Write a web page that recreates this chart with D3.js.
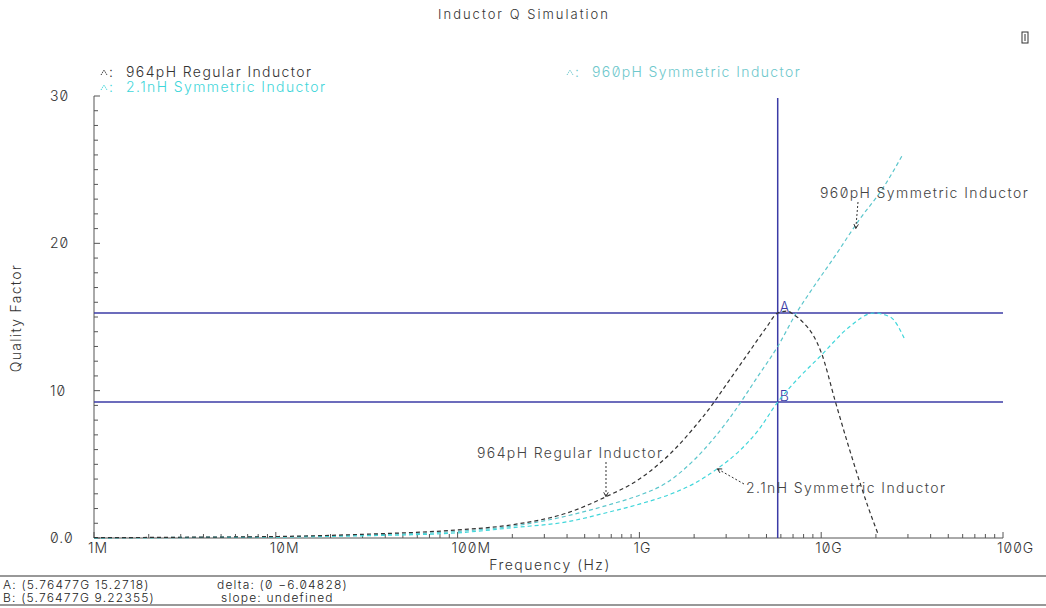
<!DOCTYPE html>
<html>
<head>
<meta charset="utf-8">
<script src="https://cdn.jsdelivr.net/npm/d3@7"></script>
<style>
  html, body { margin: 0; padding: 0; background: #fff; }
  svg text { font-family: Inter, "DejaVu Sans", sans-serif; font-weight: 300; font-feature-settings: "zero" 1; }
</style>
</head>
<body>
<svg id="chart" width="1046" height="608"></svg>
<script>
// ---- data (frequency in Hz, quality factor) ----
const freqRegular964 = [1e6, 3e6, 1e7, 3e7, 1e8, 2e8, 4e8, 6.55e8, 1e9, 1.26e9, 1.5e9, 2e9, 2.5e9, 3e9, 4e9, 5e9, 5.76477e9, 6.5e9, 7e9, 8e9, 9e9, 1e10, 1.2e10, 1.4e10, 1.6e10, 1.8e10, 2.05e10];
const qRegular964    = [0.02, 0.05, 0.1, 0.25, 0.55, 0.9, 1.7, 2.8, 4.0, 4.95, 5.8, 7.5, 9.0, 10.4, 12.6, 14.3, 15.2718, 15.4, 15.2, 14.6, 13.8, 12.6, 9.2, 6.4, 4.1, 2.2, 0.3];

const freqSym960 = [1e6, 3e6, 1e7, 3e7, 1e8, 2e8, 4e8, 7e8, 1e9, 1.39e9, 2e9, 3.12e9, 4.5e9, 5.76477e9, 7.3e9, 8.7e9, 1.2e10, 1.62e10, 2.2e10, 2.8e10];
const qSym960    = [0.01, 0.04, 0.08, 0.2, 0.45, 0.8, 1.5, 2.3, 2.9, 3.7, 5.3, 8.1, 11.0, 13.0, 15.27, 16.7, 19.2, 21.6, 23.8, 26.0];

const freqSym2n1 = [1e6, 3e6, 1e7, 3e7, 1e8, 2e8, 4e8, 7e8, 1e9, 1.5e9, 2e9, 2.68e9, 3.54e9, 4.5e9, 5.76477e9, 7.3e9, 1e10, 1.42e10, 1.95e10, 2.4e10, 2.9e10];
const qSym2n1    = [0.01, 0.03, 0.06, 0.15, 0.35, 0.7, 1.1, 1.8, 2.3, 3.0, 3.7, 4.7, 5.9, 7.3, 9.22355, 10.7, 12.4, 14.3, 15.27, 15.0, 13.4];

const xTickValues = [1e6, 1e7, 1e8, 1e9, 1e10, 1e11];
const xTickLabels = ["1M", "10M", "100M", "1G", "10G", "100G"];
const yTickValues = [0, 10, 20, 30];
const yTickLabels = ["0.0", "10", "20", "30"];

// cursor readout
const cursorFreqLabel = "5.76477G";
const cursorFreq = 5.76477e9;
const cursorA = 15.2718;
const cursorB = 9.22355;
const cursorDelta = "-6.04828";

const seriesNames = ["964pH Regular Inductor", "2.1nH Symmetric Inductor", "960pH Symmetric Inductor"];
const seriesColors = ["#333333", "#3fd6da", "#5cc6cc"];

// ---- layout ----
const svg = d3.select("#chart");
const x = d3.scaleLog().domain([1e6, 1e11]).range([94, 1003]);
const y = d3.scaleLinear().domain([0, 30]).range([538, 96]);
const axisColor = "#555";
const cursorColor = "#3b3ba6";

// title
svg.append("text").attr("x", 524).attr("y", 19).attr("text-anchor", "middle")
  .attr("font-size", 13).attr("fill", "#333").attr("letter-spacing", 2.0)
  .text("Inductor Q Simulation");

// small icon at top right
svg.append("rect").attr("x", 1022).attr("y", 32).attr("width", 6).attr("height", 11)
  .attr("fill", "none").attr("stroke", "#333").attr("stroke-width", 1);
svg.append("line").attr("x1", 1025).attr("x2", 1025).attr("y1", 34).attr("y2", 41)
  .attr("stroke", "#333").attr("stroke-width", 1);

// ---- axes ----
const gAxes = svg.append("g");
// left axis
gAxes.append("line").attr("x1", x(1e6)).attr("x2", x(1e6)).attr("y1", y(30)).attr("y2", y(0))
  .attr("stroke", axisColor);
d3.range(0, 31).forEach(v => {
  const major = v % 10 === 0;
  gAxes.append("line").attr("x1", x(1e6)).attr("x2", x(1e6) + (major ? 6 : 4))
    .attr("y1", y(v)).attr("y2", y(v)).attr("stroke", axisColor);
});
// bottom axis
gAxes.append("line").attr("x1", x(1e6)).attr("x2", x(1e11)).attr("y1", y(0)).attr("y2", y(0))
  .attr("stroke", axisColor);
const minorTicks = [];
for (let e = 6; e < 11; e++) for (let m = 2; m <= 9; m++) minorTicks.push(m * Math.pow(10, e));
minorTicks.forEach(f => {
  gAxes.append("line").attr("x1", x(f)).attr("x2", x(f)).attr("y1", y(0)).attr("y2", y(0) - 4)
    .attr("stroke", axisColor);
});
xTickValues.forEach(f => {
  gAxes.append("line").attr("x1", x(f)).attr("x2", x(f)).attr("y1", y(0)).attr("y2", y(0) - 6)
    .attr("stroke", axisColor);
});

// tick labels
xTickValues.forEach((f, i) => {
  svg.append("text").attr("x", x(f) - 6).attr("y", 553).attr("text-anchor", "start")
    .attr("font-size", 14).attr("fill", "#333").attr("letter-spacing", 1).text(xTickLabels[i]);
});
yTickValues.forEach((v, i) => {
  svg.append("text").attr("x", 50).attr("y", y(v) + 5).attr("text-anchor", "start")
    .attr("font-size", 14).attr("fill", "#333").attr("letter-spacing", 1).text(yTickLabels[i]);
});

// axis titles
svg.append("text").attr("x", 550).attr("y", 570).attr("text-anchor", "middle")
  .attr("font-size", 14).attr("fill", "#333").attr("letter-spacing", 1.5).text("Frequency (Hz)");
svg.append("text").attr("transform", "translate(21,318) rotate(-90)").attr("text-anchor", "middle")
  .attr("font-size", 14).attr("fill", "#333").attr("letter-spacing", 1.3).text("Quality Factor");

// ---- cursor lines ----
svg.append("line").attr("x1", x(cursorFreq)).attr("x2", x(cursorFreq))
  .attr("y1", y(30) + 2).attr("y2", y(0)).attr("stroke", cursorColor).attr("stroke-width", 1.5);
[cursorA, cursorB].forEach(v => {
  svg.append("line").attr("x1", x(1e6)).attr("x2", x(1e11)).attr("y1", y(v)).attr("y2", y(v))
    .attr("stroke", cursorColor).attr("stroke-width", 1.5);
});
svg.append("text").attr("x", x(cursorFreq) + 2).attr("y", y(cursorA) - 1)
  .attr("font-size", 14).attr("fill", cursorColor).text("A");
svg.append("text").attr("x", x(cursorFreq) + 2).attr("y", y(cursorB) - 1)
  .attr("font-size", 14).attr("fill", cursorColor).text("B");

// ---- curves ----
const line = d3.line().x(d => x(d[0])).y(d => y(d[1])).curve(d3.curveMonotoneX);
const seriesData = [
  d3.zip(freqRegular964, qRegular964),
  d3.zip(freqSym2n1, qSym2n1),
  d3.zip(freqSym960, qSym960)
];
// draw cyan curves first so the black one sits on top
[2, 1, 0].forEach(i => {
  svg.append("path").attr("d", line(seriesData[i])).attr("fill", "none")
    .attr("stroke", seriesColors[i]).attr("stroke-width", 1.2)
    .attr("stroke-dasharray", "4,3");
});

// ---- legend ----
function marker(g, cx, cy, color) {
  g.append("path").attr("d", `M${cx - 3},${cy + 2}L${cx},${cy - 3}L${cx + 3},${cy + 2}`)
    .attr("fill", "none").attr("stroke", color).attr("stroke-width", 1).attr("stroke-dasharray", "1.5,1");
}
const legendPos = [[100, 77], [100, 92], [566, 77]];
const legendColors = ["#333333", "#3fd6da", "#6ec8cc"];
seriesNames.forEach((name, i) => {
  const [lx, ly] = legendPos[i];
  const g = svg.append("g");
  marker(g, lx + 4, ly - 4, legendColors[i]);
  g.append("text").attr("x", lx + 9).attr("y", ly).attr("font-size", 14)
    .attr("fill", legendColors[i]).text(":");
  g.append("text").attr("x", lx + 26).attr("y", ly).attr("font-size", 14)
    .attr("fill", legendColors[i]).attr("letter-spacing", 1.4).text(name);
});

// ---- curve annotations ----
const annotFreq = [6.55e8, 2.68e9, 1.55e10];
const annotQ = [2.8, 4.7, 21.0];
const annotText = [[477, 458], [746, 493], [820, 198]];
const annotFrom = [[606, 462], [744, 484], [858, 202]];
seriesNames.forEach((name, i) => {
  svg.append("text").attr("x", annotText[i][0]).attr("y", annotText[i][1])
    .attr("font-size", 14).attr("fill", "#444").attr("letter-spacing", 1.4).text(name);
  const tx = x(annotFreq[i]), ty = y(annotQ[i]);
  svg.append("line").attr("x1", annotFrom[i][0]).attr("y1", annotFrom[i][1])
    .attr("x2", tx).attr("y2", ty).attr("stroke", "#333").attr("stroke-width", 1)
    .attr("stroke-dasharray", "2,2");
  const ang = Math.atan2(ty - annotFrom[i][1], tx - annotFrom[i][0]);
  const a1 = ang + Math.PI * 0.85, a2 = ang - Math.PI * 0.85;
  svg.append("path")
    .attr("d", `M${tx + 5 * Math.cos(a1)},${ty + 5 * Math.sin(a1)}L${tx},${ty}L${tx + 5 * Math.cos(a2)},${ty + 5 * Math.sin(a2)}`)
    .attr("fill", "none").attr("stroke", "#333").attr("stroke-width", 1);
});

// ---- cursor readout ----
svg.append("line").attr("x1", 0).attr("x2", 1046).attr("y1", 576).attr("y2", 576)
  .attr("stroke", "#333").attr("stroke-width", 1.2);
svg.append("line").attr("x1", 0).attr("x2", 1046).attr("y1", 605).attr("y2", 605)
  .attr("stroke", "#333").attr("stroke-width", 1.2);
const readout = [
  [3, 589, `A: (${cursorFreqLabel} ${cursorA})`],
  [3, 602, `B: (${cursorFreqLabel} ${cursorB})`],
  [217, 589, `delta: (0 ${cursorDelta.replace("-", "\u2212")})`],
  [221, 602, "slope: undefined"]
];
readout.forEach(([tx, ty, t]) => {
  svg.append("text").attr("x", tx).attr("y", ty).attr("font-size", 12)
    .attr("fill", "#222").attr("letter-spacing", 1.2).text(t);
});
</script>
</body>
</html>
